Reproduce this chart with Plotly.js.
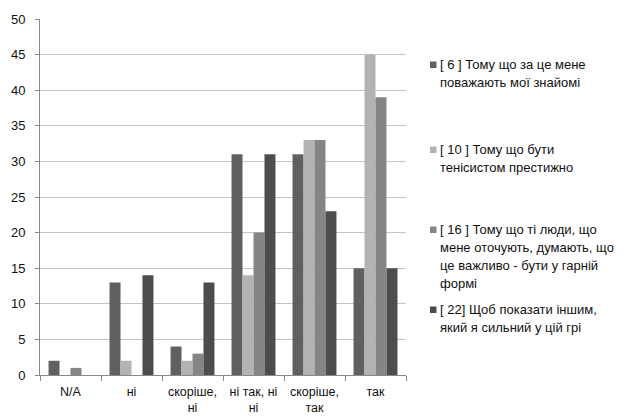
<!DOCTYPE html>
<html>
<head>
<meta charset="utf-8">
<script src="https://cdn.plot.ly/plotly-3.0.1.min.js"></script>
<style>
  html, body { margin: 0; padding: 0; background: #ffffff; }
  #chart { width: 630px; height: 417px; }
</style>
</head>
<body>
<div id="chart"></div>
<script>
// Answer categories along the x axis
var categories = ['N/A', 'ні', 'скоріше,<br>ні', 'ні так, ні<br>ні', 'скоріше,<br>так', 'так'];

// Counts for each motive
var motive6  = [2, 13, 4, 31, 31, 15];
var motive10 = [0, 2, 2, 14, 33, 45];
var motive16 = [1, 0, 3, 20, 33, 39];
var motive22 = [0, 14, 13, 31, 23, 15];

// Series names (legend lines separated by <br>)
var seriesNames = [
  '[ 6 ] Тому що за це мене<br>поважають мої знайомі',
  '[ 10 ] Тому що бути<br>тенісистом престижно',
  '[ 16 ] Тому що ті люди, що<br>мене оточують, думають, що<br>це важливо - бути у гарній<br>формі',
  '[ 22] Щоб показати іншим,<br>який я сильний у цій грі'
];

var yTicks = [0, 5, 10, 15, 20, 25, 30, 35, 40, 45, 50];

var seriesValues = [motive6, motive10, motive16, motive22];
var seriesColors = ['#606060', '#b3b3b3', '#858585', '#4d4d4d'];

var FONT = 'Liberation Sans, Arial, sans-serif';
var TEXT = '#111111';

// Plot area in pixels
var W = 630, H = 417;
var M = {l: 40, r: 224, t: 19, b: 42};
var plotW = W - M.l - M.r, plotH = H - M.t - M.b;
function px2x(px) { return (px - M.l) / plotW; }
function px2y(py) { return (H - M.b - py) / plotH; }

var traces = seriesValues.map(function (vals, i) {
  return {
    type: 'bar',
    x: categories,
    y: vals,
    name: seriesNames[i],
    marker: {color: seriesColors[i], line: {width: 0}},
    showlegend: false,
    hoverinfo: 'x+y'
  };
});

// Legend drawn beside the plot: a small square plus one text line per row
var entryTop = [64.5, 149.5, 229.5, 309.5];
var lineStep = 18;
var shapes = [];
var annotations = [];
seriesNames.forEach(function (name, i) {
  var cy = entryTop[i];
  shapes.push({
    type: 'rect', xref: 'paper', yref: 'paper',
    x0: px2x(430), x1: px2x(436.5),
    y0: px2y(cy - 3), y1: px2y(cy + 3.5),
    fillcolor: seriesColors[i], line: {width: 0}
  });
  name.split('<br>').forEach(function (line, j) {
    annotations.push({
      xref: 'paper', yref: 'paper',
      x: px2x(438), y: px2y(cy + j * lineStep),
      xanchor: 'left', yanchor: 'middle',
      text: line, showarrow: false,
      font: {family: FONT, size: 13, color: TEXT}
    });
  });
});

var layout = {
  width: W, height: H,
  margin: M,
  paper_bgcolor: '#ffffff',
  plot_bgcolor: '#ffffff',
  barmode: 'group',
  bargap: 0.28,
  bargroupgap: 0,
  font: {family: FONT, size: 13, color: TEXT},
  xaxis: {
    type: 'category',
    tickson: 'boundaries',
    ticks: 'outside', ticklen: 5, tickcolor: '#888888', tickwidth: 1,
    showline: true, linecolor: '#888888', linewidth: 1,
    showgrid: false, zeroline: false,
    tickfont: {family: FONT, size: 12.5, color: TEXT},
    ticklabelstandoff: 5
  },
  yaxis: {
    range: [0, 50],
    tickvals: yTicks,
    ticktext: yTicks.map(String),
    ticks: 'outside', ticklen: 4, tickcolor: '#888888', tickwidth: 1,
    showline: true, linecolor: '#888888', linewidth: 1,
    showgrid: true, gridcolor: '#c4c4c4', gridwidth: 1,
    zeroline: false,
    tickfont: {family: FONT, size: 13, color: TEXT},
    ticklabelstandoff: 7
  },
  shapes: shapes,
  annotations: annotations,
  showlegend: false
};

Plotly.newPlot('chart', traces, layout, {displayModeBar: false, staticPlot: true});
</script>
</body>
</html>
